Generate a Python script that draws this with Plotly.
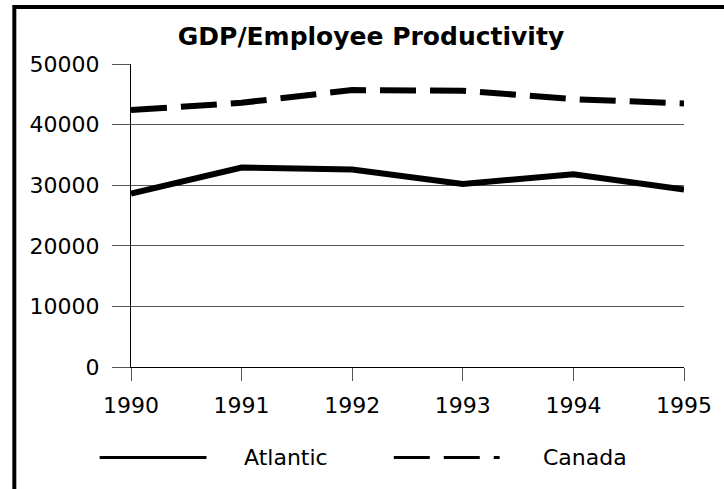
import plotly.graph_objects as go

years = [1990, 1991, 1992, 1993, 1994, 1995]
atlantic = [28600, 32900, 32600, 30200, 31800, 29300]
canada = [42400, 43600, 45700, 45600, 44200, 43500]
series_names = ["Atlantic", "Canada"]
y_ticks = [0, 10000, 20000, 30000, 40000, 50000]
title_text = "GDP/Employee Productivity"

W, H = 724, 489
L, R, T, B = 131, 695, 64, 367

def px_x(px):
    return (px - L) / (R - L)

def px_y(py):
    return (B - py) / (B - T)

fig = go.Figure()
fig.add_trace(go.Scatter(x=years, y=atlantic, name=series_names[0], mode="lines",
                         line=dict(color="black", width=6), showlegend=False))
fig.add_trace(go.Scatter(x=years, y=canada, name=series_names[1], mode="lines",
                         line=dict(color="black", width=6, dash="36px,14px"), showlegend=False))

font = "DejaVu Sans"
fig.update_layout(
    width=W, height=H,
    margin=dict(l=L, r=W - R, t=T, b=H - B, pad=0),
    paper_bgcolor="white", plot_bgcolor="white",
    title=dict(text=title_text, x=371 / W, xref="container", xanchor="center",
               y=1 - 36 / H, yref="container", yanchor="middle",
               font=dict(family=font, size=25, color="black", weight="bold")),
    xaxis=dict(range=[1990, 1995], tickvals=years, ticktext=[str(y) for y in years],
               showgrid=False, zeroline=False, showline=True, linecolor="black", linewidth=1,
               ticks="outside", ticklen=13, tickcolor="#555", tickwidth=1,
               tickfont=dict(family=font, size=22, color="black"), ticklabelstandoff=6),
    yaxis=dict(range=[0, 50000], tickvals=y_ticks, ticktext=[str(v) for v in y_ticks],
               showgrid=True, gridcolor="#555", gridwidth=1, zeroline=False,
               showline=True, linecolor="black", linewidth=1,
               ticks="outside", ticklen=18, tickcolor="#555", tickwidth=1,
               tickfont=dict(family=font, size=22, color="black"), ticklabelstandoff=8),
)

# Border (left and top)
fig.add_shape(type="rect", xref="paper", yref="paper",
              x0=px_x(12), x1=px_x(760), y0=px_y(520), y1=px_y(7),
              line=dict(color="black", width=4), fillcolor="rgba(0,0,0,0)", layer="above")

# Custom legend
leg_y = px_y(457.5)
fig.add_shape(type="line", xref="paper", yref="paper", x0=px_x(99), x1=px_x(208),
              y0=leg_y, y1=leg_y, line=dict(color="black", width=3))
fig.add_shape(type="line", xref="paper", yref="paper", x0=px_x(399), x1=px_x(507),
              y0=leg_y, y1=leg_y, line=dict(color="black", width=3, dash="36px,14px"))
fig.add_annotation(text=series_names[0], xref="paper", yref="paper", x=px_x(289), y=leg_y,
                   xanchor="center", yanchor="middle", showarrow=False,
                   font=dict(family=font, size=22, color="black"))
fig.add_annotation(text=series_names[1], xref="paper", yref="paper", x=px_x(594), y=leg_y,
                   xanchor="center", yanchor="middle", showarrow=False,
                   font=dict(family=font, size=22, color="black"))

fig.write_html("out.html", config={"displayModeBar": False},
               post_script="document.body.style.margin='0';")
